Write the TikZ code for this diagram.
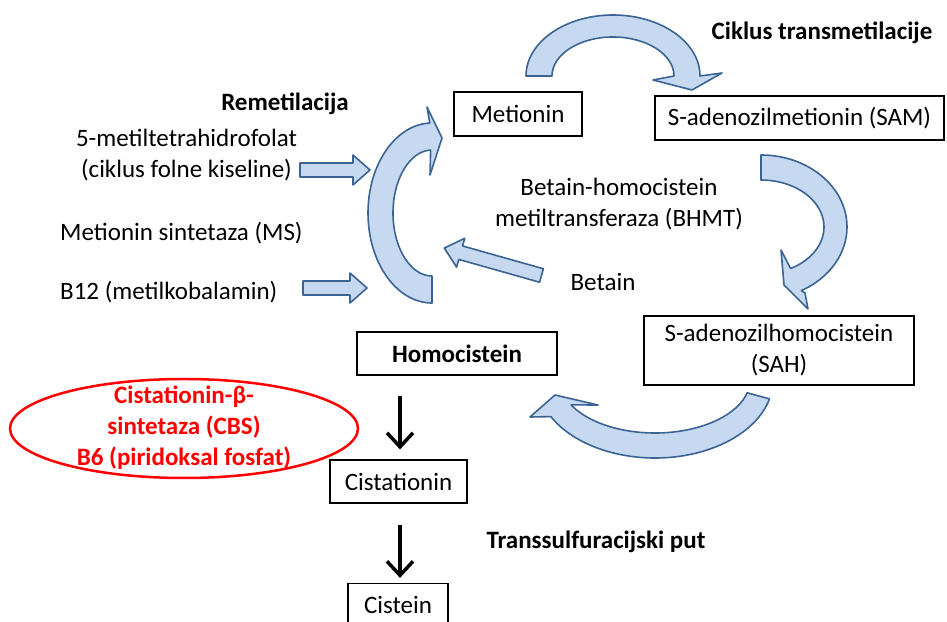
\documentclass[tikz,border=0pt]{standalone}
\usepackage{fontspec}
\setmainfont{Carlito}
\usetikzlibrary{shapes.geometric,arrows.meta,calc}
\definecolor{afill}{HTML}{C6D9F1}
\definecolor{aline}{HTML}{3B6494}
\definecolor{cbsred}{HTML}{FF0000}
\newcommand\blockarrow[4]{%
  \begin{scope}[shift={(#1,#2)},rotate=#3]
    \filldraw[carrow] (0,-7) -- (#4-17,-7) -- (#4-17,-15) -- (#4,0) -- (#4-17,15) -- (#4-17,7) -- (0,7) -- cycle;
  \end{scope}}
\begin{document}
\begin{tikzpicture}[x=1pt,y=1pt,
  lbl/.style={font=\fontsize{25}{31}\selectfont, inner sep=0pt, align=center},
  ttl/.style={font=\fontsize{25}{31}\selectfont\bfseries, inner sep=0pt, align=center},
  box/.style={draw=black, line width=1.2pt, fill=white, inner sep=0pt, font=\fontsize{25}{31}\selectfont, align=center},
  carrow/.style={fill=afill, draw=aline, line width=1.6pt, line join=round},
  blk/.style={line width=3.5pt, -{Straight Barb[length=14pt,width=26pt]}}]
\useasboundingbox (0,0) rectangle (947,621);

% curved block arrows
\coordinate (cA) at (613,545);
\filldraw[carrow] ($(cA)+(180:87 and 61)$) arc[start angle=180, end angle=0, x radius=87, y radius=61]
  -- (722,548) -- (692,531) -- (653,541)
  -- ($(cA)+(0:61 and 39)$) arc[start angle=0, end angle=180, x radius=61, y radius=39] -- cycle;

\coordinate (cB) at (761,394);
\filldraw[carrow] ($(cB)+(90:86 and 72)$) arc[start angle=90, end angle=-62, x radius=86, y radius=72]
  -- (805,328) -- (808,312) -- (784,336) -- (781,371)
  -- ($(cB)+(-62:63 and 47)$) arc[start angle=-62, end angle=90, x radius=63, y radius=47] -- cycle;

\coordinate (cC) at (655,241);
\filldraw[carrow] ($(cC)+(-14:118 and 78)$) arc[start angle=-14, end angle=-152, x radius=118, y radius=78]
  -- (530,204) -- (555,226) -- (598,216)
  -- ($(cC)+(-152:95 and 53)$) arc[start angle=-152, end angle=-14, x radius=95, y radius=53] -- cycle;

\coordinate (cD) at (432,408);
\filldraw[carrow] ($(cD)+(-90:64 and 90)$) arc[start angle=-90, end angle=-268, x radius=64, y radius=90]
  -- (427,514) -- (442,483) -- (430,446)
  -- ($(cD)+(-268:39 and 63)$) arc[start angle=-268, end angle=-90, x radius=39, y radius=63] -- cycle;

% straight block arrows
\blockarrow{300}{451}{0}{70}
\blockarrow{303}{333}{0}{64}
\blockarrow{541.5}{345.5}{164.25}{101}

% texts
\node[ttl] (tcikl) at (822,588) {Ciklus transmetilacije};
\node[ttl] (tremet) at (285,517) {Remetilacija};
\node[lbl] (tfol) at (186.5,465.5) {5-metiltetrahidrofolat\\(ciklus folne kiseline)};
\node[lbl, anchor=west] (tms) at (60,388) {Metionin sintetaza (MS)};
\node[lbl, anchor=west] (tb12) at (60,329) {B12 (metilkobalamin)};
\node[lbl] (tbhmt) at (619,416.5) {Betain-homocistein\\metiltransferaza (BHMT)};
\node[lbl] (tbet) at (603,339) {Betain};
\node[ttl] (ttrans) at (596,79) {Transsulfuracijski put};

% boxes
\node[box, minimum width=128, minimum height=44] (met) at (518,507) {Metionin};
\node[box, minimum width=289, minimum height=44] (sam) at (799.5,503) {S-adenozilmetionin (SAM)};
\node[box, minimum width=270, minimum height=69] (sah) at (779,270.5) {S-adenozilhomocistein\\(SAH)};
\node[box, minimum width=200, minimum height=43, font=\fontsize{25}{31}\selectfont\bfseries] (hcy) at (457,267.5) {Homocistein};
\node[box, minimum width=137, minimum height=43] (cist) at (398.5,139.5) {Cistationin};
\node[box, minimum width=100, minimum height=43] (cys) at (398,16) {Cistein};

% CBS ellipse
\node[ellipse, draw=cbsred, line width=2.5pt, minimum width=348, minimum height=99, inner sep=0pt] (cbs) at (184,192.5) {};
\node[ttl, text=cbsred] (cbst) at (184,193) {Cistationin-β-\\sintetaza (CBS)\\B6 (piridoksal fosfat)};

% black arrows
\draw[blk] ($(cist.north)+(1.5,63)$) -- ($(cist.north)+(1.5,10)$);
\draw[blk] ($(cys.north)+(2,58)$) -- ($(cys.north)+(2,5)$);
\end{tikzpicture}
\end{document}
